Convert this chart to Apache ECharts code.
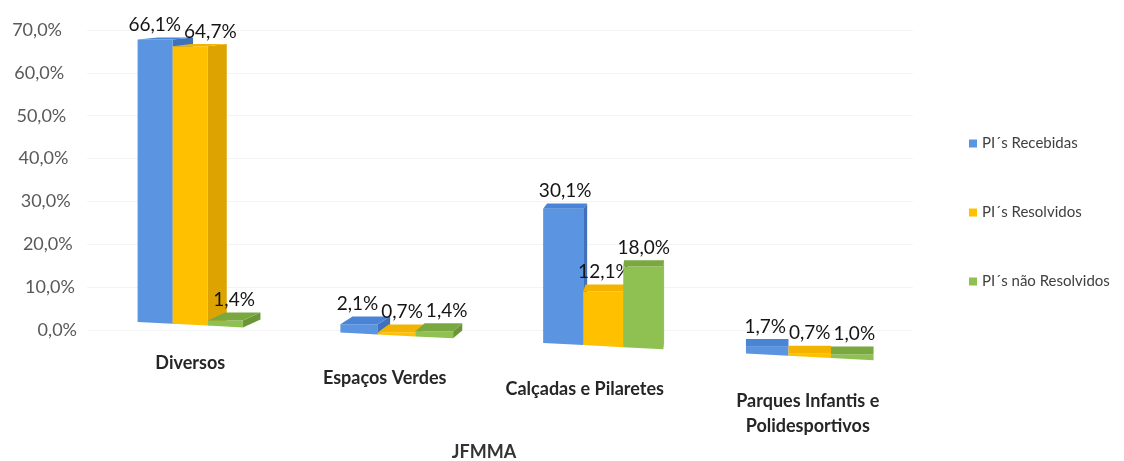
<!DOCTYPE html>
<html><head><meta charset="utf-8">
<script src="https://cdn.jsdelivr.net/npm/echarts@6/dist/echarts.min.js"></script>
<style>html,body{margin:0;padding:0;background:#fff}#c{width:1124px;height:461px}</style>
</head><body><div id="c"></div>
<script>
const categories = ['Diversos', 'Espaços Verdes', 'Calçadas e Pilaretes', 'Parques Infantis e\nPolidesportivos'];
const seriesNames = ['PI´s Recebidas', 'PI´s Resolvidos', 'PI´s não Resolvidos'];
const recebidas = [66.1, 2.1, 30.1, 1.7];
const resolvidos = [64.7, 0.7, 12.1, 0.7];
const naoResolvidos = [1.4, 1.4, 18.0, 1.0];
const yTicks = [0, 10, 20, 30, 40, 50, 60, 70];
const xAxisTitle = 'JFMMA';

const FONT = 'Lato';
const LABEL_FONT = '19px Lato';
const frontColors = ['#5B94E1', '#FFC000', '#8EC052'];
const topColors = ['#4A84D6', '#F2B400', '#7AA840'];
const sideColors = ['#3F71BC', '#DDA300', '#6A9638'];
const dataSets = [recebidas, resolvidos, naoResolvidos];

function fmt(v) { return v.toFixed(1).replace('.', ',') + '%'; }

const measureCtx = document.createElement('canvas').getContext('2d');
function textWidth(t) { measureCtx.font = LABEL_FONT; return measureCtx.measureText(t).width; }

// 3D-looking geometry of one bar, derived from the axis coordinates
function geom(api, cs, ci, s, v) {
  const base = api.coord([ci, 0]);
  const top = api.coord([ci, v]);
  const band = api.size([1, 0])[0];
  const w = band * (0.17 + 0.012 * ci);
  const cx = base[0] + (s - 1) * w;
  const x0 = cx - w / 2, x1 = cx + w / 2;
  const floor = x => base[1] + (x - cs.x) * 0.052 - 10.7;
  const scale = 1 + 0.00012 * (cx - cs.x - 70);
  const H = (base[1] - top[1]) * scale;
  const yt = floor(cx) - H;
  const vpX = cs.x + cs.width * 0.72;
  const dx = Math.max(0, (vpX - x1) * 0.04);
  const dy = Math.max(2, 8 - v * 0.09);
  return { cx, x0, x1, floor, yt, dx, dy };
}

function layoutLabels(items) {
  for (let iter = 0; iter < 6; iter++) {
    for (let i = 1; i < items.length; i++) {
      const a = items[i - 1], b = items[i];
      if (Math.abs(a.y - b.y) < 17) {
        const need = (a.w + b.w) / 2 + 3 - (b.x - a.x);
        if (need > 0) { a.x -= need / 2; b.x += need / 2; }
      }
    }
  }
  return items;
}

function makeRender(s) {
  return function (params, api) {
    const ci = api.value(0), v = api.value(1);
    const cs = params.coordSys;
    const g = geom(api, cs, ci, s, v);
    const items = dataSets.map((arr, k) => {
      const gk = geom(api, cs, ci, k, arr[ci]);
      const t = fmt(arr[ci]);
      return { x: gk.cx + gk.dx / 2, y: gk.yt - gk.dy - 3, w: textWidth(t), t };
    });
    layoutLabels(items);
    const lab = items[s];
    const { x0, x1, floor, yt, dx, dy } = g;
    const children = [
      { type: 'polygon', shape: { points: [[x1, yt], [x1 + dx, yt - dy], [x1 + dx, floor(x1) - dy], [x1, floor(x1)]] },
        style: { fill: sideColors[s] } },
      { type: 'polygon', shape: { points: [[x0, floor(x0)], [x1, floor(x1)], [x1, yt], [x0, yt]] },
        style: { fill: frontColors[s] } },
      { type: 'polygon', shape: { points: [[x0, yt], [x1, yt], [x1 + dx, yt - dy], [x0 + dx, yt - dy]] },
        style: { fill: topColors[s] } },
      { type: 'text', x: lab.x, y: lab.y,
        style: { text: lab.t, fill: '#141414', font: LABEL_FONT, align: 'center', verticalAlign: 'bottom' } }
    ];
    return { type: 'group', children };
  };
}

const series = dataSets.map((arr, s) => ({
  name: seriesNames[s],
  type: 'custom',
  renderItem: makeRender(s),
  itemStyle: { color: frontColors[s] },
  encode: { x: 0, y: 1 },
  data: arr.map((v, i) => [i, v]),
  z: 2
}));

const yRich = {};
yTicks.forEach(v => {
  yRich['p' + v] = { fontFamily: FONT, fontSize: 18, color: '#595959', padding: [0, 15 * v / yTicks[yTicks.length - 1], 0, 0] };
});

const catStyle = { fontFamily: FONT, fontSize: 18, fontWeight: 'bold', color: '#262626' };

const chart = echarts.init(document.getElementById('c'), null, { renderer: 'canvas' });
chart.setOption({
  backgroundColor: '#ffffff',
  animation: false,
  textStyle: { fontFamily: FONT },
  grid: { left: 87, width: 826, top: 30, bottom: 131, containLabel: false, outerBoundsMode: 'none' },
  legend: {
    orient: 'vertical', left: 964, top: 131, itemGap: 54,
    itemWidth: 8, itemHeight: 8, icon: 'rect',
    textStyle: { fontFamily: FONT, fontSize: 15, color: '#404040' },
    data: seriesNames
  },
  xAxis: {
    type: 'category', data: categories,
    axisLine: { show: false }, axisTick: { show: false },
    name: xAxisTitle, nameLocation: 'middle', nameGap: 113,
    nameTextStyle: { fontFamily: FONT, fontSize: 18, fontWeight: 'bold', color: '#333', padding: [0, 32, 0, 0] },
    axisLabel: {
      interval: 0, margin: 24,
      formatter: function (value, idx) {
        return value.split('\n').map((line, li) => '{c' + idx + (li ? 'b' : '') + '|' + line + '}').join('\n');
      },
      rich: {
        c0: Object.assign({}, catStyle, { padding: [0, 0, 0, 0] }),
        c1: Object.assign({}, catStyle, { padding: [15, 24, 0, 0] }),
        c2: Object.assign({}, catStyle, { padding: [26, 37, 0, 0] }),
        c3: Object.assign({}, catStyle, { padding: [38, 4, 0, 0] }),
        c3b: Object.assign({}, catStyle, { padding: [0, 4, 0, 0], lineHeight: 32 })
      }
    }
  },
  yAxis: {
    type: 'value', min: yTicks[0], max: yTicks[yTicks.length - 1], interval: 10,
    axisLine: { show: false }, axisTick: { show: false },
    splitLine: { show: true, lineStyle: { color: '#f4f4f4', width: 1 } },
    axisLabel: { formatter: v => '{p' + v + '|' + fmt(v) + '}', margin: 10, rich: yRich }
  },
  series
});
</script></body></html>
